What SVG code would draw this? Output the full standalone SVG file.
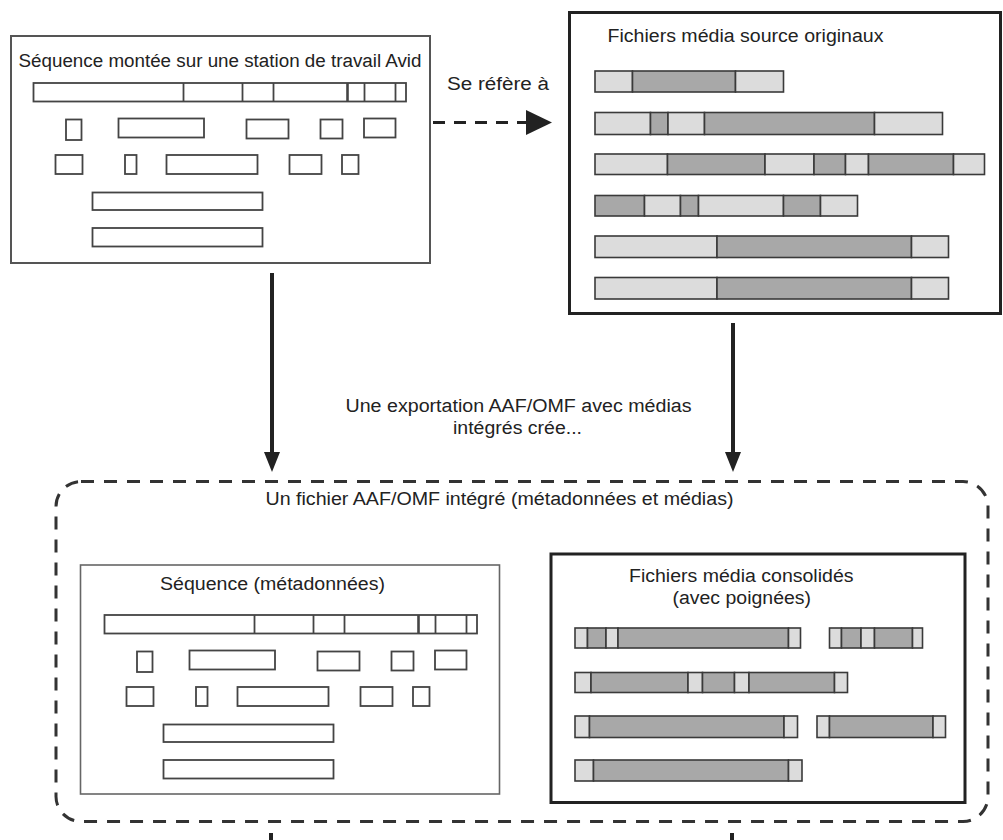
<svg xmlns="http://www.w3.org/2000/svg" xmlns:xlink="http://www.w3.org/1999/xlink" width="1003" height="840" viewBox="0 0 1003 840">
<style>
  .bg{fill:#ffffff}
  .txt{font-family:"Liberation Sans",Arial,sans-serif;font-size:18px;fill:#222}
  .box1{fill:#fff;stroke:#555;stroke-width:2}
  .box2{fill:#fff;stroke:#222;stroke-width:3}
  .box3{fill:#fff;stroke:#666;stroke-width:1.6}
  .clip{fill:none;stroke:#444;stroke-width:1.8}
  .div{stroke:#444;stroke-width:1.8}
  .L{fill:#dcdcdc;stroke:#3a3a3a;stroke-width:1.6}
  .D{fill:#a8a8a8;stroke:#3a3a3a;stroke-width:1.6}
  .conn{stroke:#222;stroke-width:4;fill:none}
  .dash{stroke:#222;stroke-width:3;fill:none;stroke-dasharray:12 9}
  .group{fill:none;stroke:#333;stroke-width:3;stroke-dasharray:13 10}
</style>
<defs>
  <marker id="arrowDown" markerUnits="userSpaceOnUse" markerWidth="20" markerHeight="16" refX="0" refY="8" orient="auto">
    <path d="M0,0 L20,8 L0,16 z" fill="#222"/>
  </marker>
  <marker id="arrowBig" markerUnits="userSpaceOnUse" markerWidth="26" markerHeight="26" refX="0" refY="13" orient="auto">
    <path d="M0,0.5 L26,13 L0,25.5 z" fill="#222"/>
  </marker>
  <g id="seq">
    <rect class="clip" x="33.5" y="83" width="372.5" height="18.5"/>
    <line class="div" x1="183.5" y1="83" x2="183.5" y2="101.5"/>
    <line class="div" x1="242.5" y1="83" x2="242.5" y2="101.5"/>
    <line class="div" x1="273.5" y1="83" x2="273.5" y2="101.5"/>
    <line class="div" x1="347.5" y1="83" x2="347.5" y2="101.5" style="stroke-width:2.6"/>
    <line class="div" x1="364.5" y1="83" x2="364.5" y2="101.5"/>
    <line class="div" x1="395.5" y1="83" x2="395.5" y2="101.5"/>
    <rect class="clip" x="66" y="119.5" width="15.5" height="20.5"/>
    <rect class="clip" x="118.5" y="118.5" width="85.5" height="19"/>
    <rect class="clip" x="246.5" y="119.5" width="42" height="19"/>
    <rect class="clip" x="320.5" y="119.5" width="22" height="19"/>
    <rect class="clip" x="364" y="118.5" width="31.5" height="19"/>
    <rect class="clip" x="55.5" y="155" width="27" height="19"/>
    <rect class="clip" x="125" y="155" width="11.5" height="19"/>
    <rect class="clip" x="166.5" y="155" width="91" height="19"/>
    <rect class="clip" x="289.5" y="155" width="32" height="19"/>
    <rect class="clip" x="342" y="155" width="16.5" height="19"/>
    <rect class="clip" x="92.5" y="192.5" width="170" height="17.5"/>
    <rect class="clip" x="92.5" y="228" width="170" height="18.5"/>
  </g>
</defs>
<rect class="bg" x="0" y="0" width="1003" height="840"/>

<g id="embedded-file">
  <rect class="group" x="56" y="481.5" width="932" height="340" rx="25" ry="25"/>
  <text class="txt" x="265.5" y="504.5" textLength="468" lengthAdjust="spacingAndGlyphs">Un fichier AAF/OMF intégré (métadonnées et médias)</text>
</g>

<g id="avid-sequence">
  <rect class="box1" x="11" y="36" width="419" height="227"/>
  <text class="txt" x="18.5" y="67" textLength="403" lengthAdjust="spacingAndGlyphs">Séquence montée sur une station de travail Avid</text>
  <use xlink:href="#seq" href="#seq"/>
</g>

<g id="source-media">
  <rect class="box2" x="569.5" y="12.5" width="431" height="301"/>
  <text class="txt" x="607.5" y="41.5" textLength="276" lengthAdjust="spacingAndGlyphs">Fichiers média source originaux</text>
  <rect class="L" x="595" y="71" width="37.5" height="21"/>
  <rect class="D" x="632.5" y="71" width="103" height="21"/>
  <rect class="L" x="735.5" y="71" width="48" height="21"/>

  <rect class="L" x="595" y="112.5" width="55.5" height="22"/>
  <rect class="D" x="650.5" y="112.5" width="17.5" height="22"/>
  <rect class="L" x="668" y="112.5" width="36.5" height="22"/>
  <rect class="D" x="704.5" y="112.5" width="170" height="22"/>
  <rect class="L" x="874.5" y="112.5" width="68" height="22"/>

  <rect class="L" x="595" y="154" width="72.5" height="20.5"/>
  <rect class="D" x="667.5" y="154" width="97.5" height="20.5"/>
  <rect class="L" x="765" y="154" width="49" height="20.5"/>
  <rect class="D" x="814" y="154" width="31.5" height="20.5"/>
  <rect class="L" x="845.5" y="154" width="23" height="20.5"/>
  <rect class="D" x="868.5" y="154" width="85" height="20.5"/>
  <rect class="L" x="953.5" y="154" width="31" height="20.5"/>

  <rect class="D" x="595" y="195.5" width="49.5" height="20.5"/>
  <rect class="L" x="644.5" y="195.5" width="36" height="20.5"/>
  <rect class="D" x="680.5" y="195.5" width="18" height="20.5"/>
  <rect class="L" x="698.5" y="195.5" width="85" height="20.5"/>
  <rect class="D" x="783.5" y="195.5" width="37" height="20.5"/>
  <rect class="L" x="820.5" y="195.5" width="37" height="20.5"/>

  <rect class="L" x="595" y="236" width="122" height="21.5"/>
  <rect class="D" x="717" y="236" width="194.5" height="21.5"/>
  <rect class="L" x="911.5" y="236" width="37" height="21.5"/>

  <rect class="L" x="595" y="277.5" width="122" height="21.5"/>
  <rect class="D" x="717" y="277.5" width="194.5" height="21.5"/>
  <rect class="L" x="911.5" y="277.5" width="37" height="21.5"/>
</g>

<g id="sequence-metadata">
  <rect class="box3" x="80.5" y="565" width="419" height="229"/>
  <text class="txt" x="160" y="589.5" textLength="225" lengthAdjust="spacingAndGlyphs">Séquence (métadonnées)</text>
  <use xlink:href="#seq" href="#seq" transform="translate(71,532)"/>
</g>

<g id="consolidated-media">
  <rect class="box2" x="551" y="554" width="414" height="248.5"/>
  <text class="txt" x="629" y="581.5" textLength="224.5" lengthAdjust="spacingAndGlyphs">Fichiers média consolidés</text>
  <text class="txt" x="672.5" y="603.5" textLength="138.5" lengthAdjust="spacingAndGlyphs">(avec poignées)</text>

  <rect class="L" x="575" y="628" width="12.5" height="20"/>
  <rect class="D" x="587.5" y="628" width="18.5" height="20"/>
  <rect class="L" x="606" y="628" width="12" height="20"/>
  <rect class="D" x="618" y="628" width="170.5" height="20"/>
  <rect class="L" x="788.5" y="628" width="12" height="20"/>

  <rect class="L" x="829.5" y="628" width="12" height="20"/>
  <rect class="D" x="841.5" y="628" width="19.5" height="20"/>
  <rect class="L" x="861" y="628" width="13.5" height="20"/>
  <rect class="D" x="874.5" y="628" width="38" height="20"/>
  <rect class="L" x="912.5" y="628" width="10" height="20"/>

  <rect class="L" x="575" y="672.5" width="16" height="20"/>
  <rect class="D" x="591" y="672.5" width="97" height="20"/>
  <rect class="L" x="688" y="672.5" width="14.5" height="20"/>
  <rect class="D" x="702.5" y="672.5" width="32" height="20"/>
  <rect class="L" x="734.5" y="672.5" width="14.5" height="20"/>
  <rect class="D" x="749" y="672.5" width="85.5" height="20"/>
  <rect class="L" x="834.5" y="672.5" width="13" height="20"/>

  <rect class="L" x="575" y="716" width="14.5" height="21.5"/>
  <rect class="D" x="589.5" y="716" width="194.5" height="21.5"/>
  <rect class="L" x="784" y="716" width="13.5" height="21.5"/>

  <rect class="L" x="817" y="716" width="12.5" height="21.5"/>
  <rect class="D" x="829.5" y="716" width="103.5" height="21.5"/>
  <rect class="L" x="933" y="716" width="12.5" height="21.5"/>

  <rect class="L" x="575" y="760" width="18.5" height="21"/>
  <rect class="D" x="593.5" y="760" width="195" height="21"/>
  <rect class="L" x="788.5" y="760" width="13.5" height="21"/>
</g>

<g id="connectors">
  <line class="dash" x1="433" y1="122.5" x2="526" y2="122.5" marker-end="url(#arrowBig)"/>
  <text class="txt" x="447" y="90" textLength="102" lengthAdjust="spacingAndGlyphs">Se réfère à</text>
  <line class="conn" x1="272" y1="273" x2="272" y2="452" marker-end="url(#arrowDown)"/>
  <line class="conn" x1="733" y1="323" x2="733" y2="452" marker-end="url(#arrowDown)"/>
  <text class="txt" x="345.5" y="411.5" textLength="346" lengthAdjust="spacingAndGlyphs">Une exportation AAF/OMF avec médias</text>
  <text class="txt" x="453" y="433.5" textLength="129" lengthAdjust="spacingAndGlyphs">intégrés crée...</text>
  <line class="conn" x1="271" y1="833" x2="271" y2="840"/>
  <line class="conn" x1="732" y1="833" x2="732" y2="840"/>
</g>
</svg>
